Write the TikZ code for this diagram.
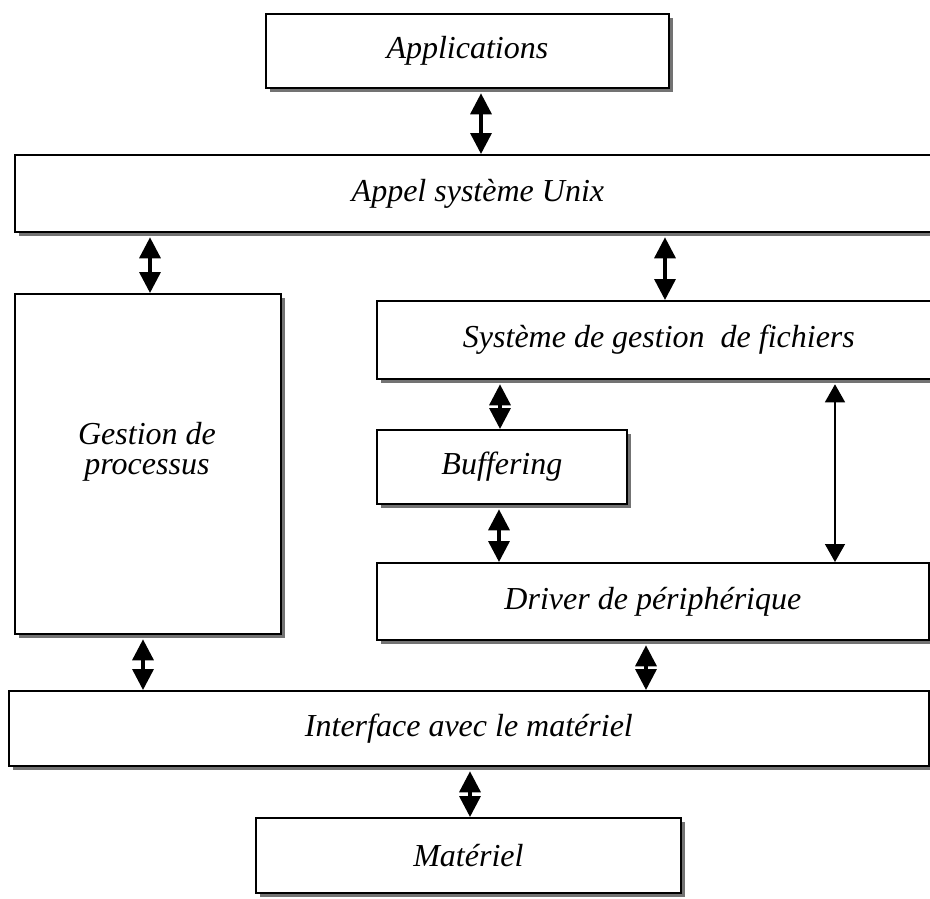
\documentclass[tikz,border=0pt]{standalone}
\usepackage{fontspec}
\setmainfont{Liberation Serif}
\usetikzlibrary{arrows.meta,shadows}
\begin{document}
\begin{tikzpicture}[x=1pt,y=-1pt,
  layer/.style={draw=black, line width=1.8pt, fill=white, inner sep=0pt,
    anchor=north west, align=center,
    font=\fontsize{32}{30}\selectfont\itshape,
    drop shadow={shadow xshift=4.5pt, shadow yshift=-4.5pt, fill=black!55, opacity=1}},
  link/.style={line width=3.5pt,
    {Triangle[width=21pt,length=21pt]}-{Triangle[width=21pt,length=21pt]}},
  thinlink/.style={line width=1.5pt,
    {Triangle[width=20pt,length=18pt]}-{Triangle[width=20pt,length=18pt]}}]
\useasboundingbox (0,0) rectangle (930,898);

% layers of the system
\node[layer, minimum width=403pt, minimum height=74pt] (app)   at (265,13)  {Applications};
\node[layer, minimum width=926pt, minimum height=77pt] (unix)  at (14,154)  {Appel système Unix};
\node[layer, minimum width=266pt, minimum height=340pt] (gest) at (14,293)  {};
\node[font=\fontsize{32}{30}\selectfont\itshape, align=center] (gesttxt) at (147,452) {Gestion de\\processus};
\node[layer, minimum width=564pt, minimum height=78pt] (sgf)   at (376,300) {Système de gestion\ \ de fichiers};
\node[layer, minimum width=250pt, minimum height=74pt] (buf)   at (376,429) {Buffering};
\node[layer, minimum width=552pt, minimum height=77pt] (drv)   at (376,562) {Driver de périphérique};
\node[layer, minimum width=920pt, minimum height=75pt] (iface) at (8,690)   {Interface avec le matériel};
\node[layer, minimum width=425pt, minimum height=75pt] (mat)   at (255,817) {Matériel};

% horizontal positions of the links
\coordinate (c1) at (481,0);
\coordinate (c2) at (150,0);
\coordinate (c3) at (665,0);
\coordinate (c4) at (500,0);
\coordinate (c5) at (499,0);
\coordinate (c6) at (835,0);
\coordinate (c7) at (143,0);
\coordinate (c8) at (646,0);
\coordinate (c9) at (470,0);

% links between layers
\draw[link] ([yshift=-4.5pt]app.south -| c1) -- (unix.north -| c1);
\draw[link] ([yshift=-4.5pt]unix.south -| c2) -- (gest.north -| c2);
\draw[link] ([yshift=-4.5pt]unix.south -| c3) -- (sgf.north -| c3);
\draw[link] ([yshift=-4.5pt]sgf.south -| c4) -- (buf.north -| c4);
\draw[link] ([yshift=-4.5pt]buf.south -| c5) -- (drv.north -| c5);
\draw[thinlink] ([yshift=-4.5pt]sgf.south -| c6) -- (drv.north -| c6);
\draw[link] ([yshift=-4.5pt]gest.south -| c7) -- (iface.north -| c7);
\draw[link] ([yshift=-4.5pt]drv.south -| c8) -- (iface.north -| c8);
\draw[link] ([yshift=-4.5pt]iface.south -| c9) -- (mat.north -| c9);
\end{tikzpicture}
\end{document}
